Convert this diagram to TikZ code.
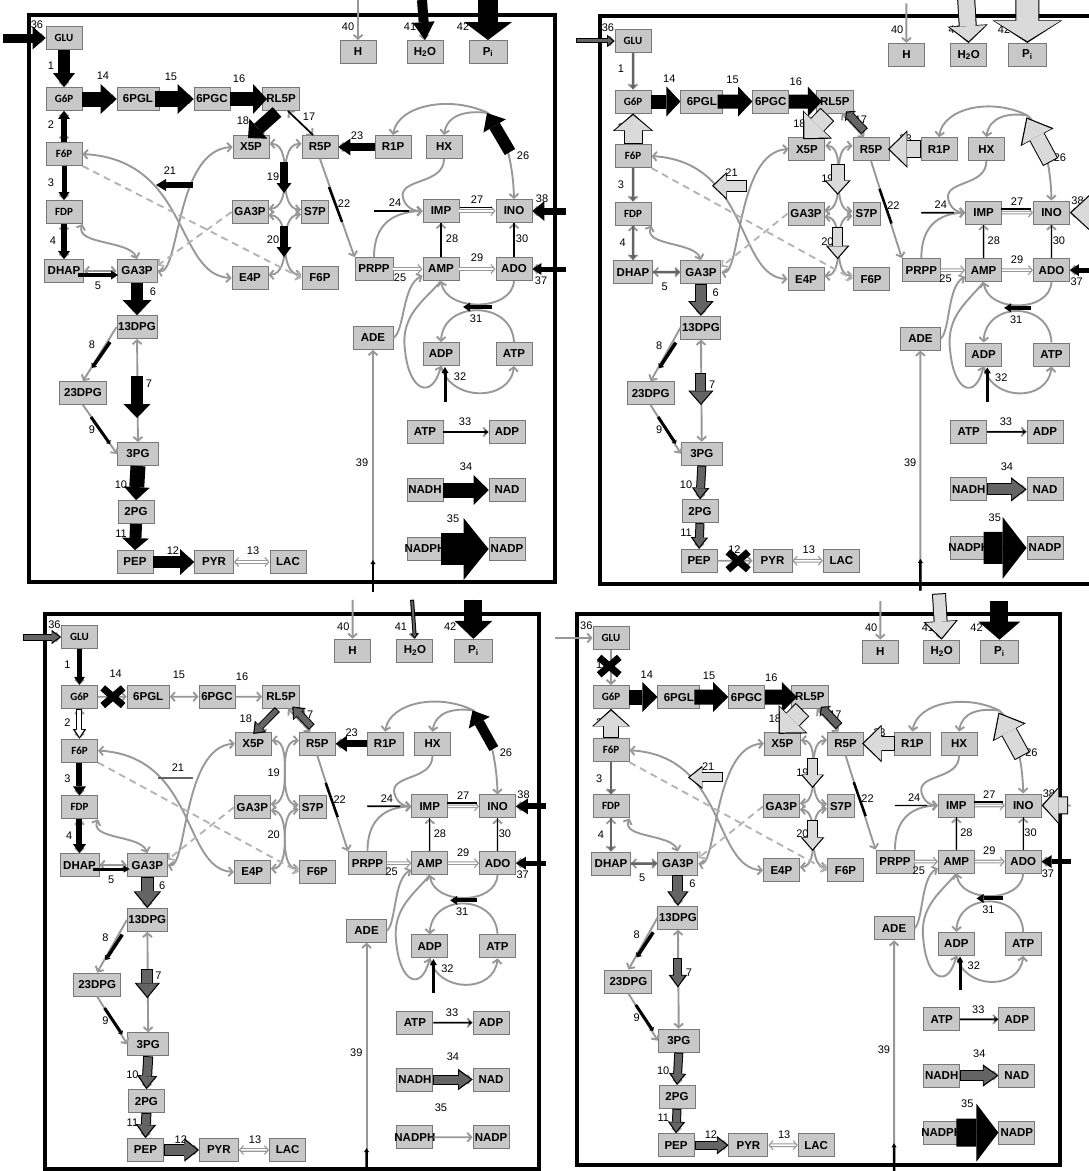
\documentclass[tikz,border=0pt]{standalone}
\usepackage{fontspec}
\setmainfont{Liberation Sans}
\newfontfamily\calfont{Carlito}
\usetikzlibrary{arrows.meta}

\definecolor{boxfill}{RGB}{200,200,200}
\definecolor{boxline}{RGB}{120,120,120}
\definecolor{conn}{RGB}{152,152,152}
\definecolor{dashc}{RGB}{180,180,180}
\definecolor{fluxdark}{RGB}{100,100,100}
\definecolor{fluxlight}{RGB}{218,218,218}

\newcommand{\lflux}[6][fluxlight]{%
  \pgfmathsetmacro\lfsw{#2+2}\pgfmathsetmacro\lfhw{#3+4.5}\pgfmathsetmacro\lfhl{#4+2.5}%
  \draw[fx={\lfsw}{\lfhw}{\lfhl}, black] (#5) -- (#6);
  \draw[fx={#2}{#3}{#4}, #1, shorten >=1.8pt, shorten <=1pt] (#5) -- (#6);
}
\newcommand{\stopx}[1]{\draw[xmark] (#1) ++(-11,-9) -- ++(22,18) ++(0,-18) -- ++(-22,18);}

\newcommand{\network}{%
  \node[met,sm] (glu) at (64,38) {GLU};
  \node[met,sm] (g6p) at (64,99) {G6P};
  \node[met,minimum width=42pt] (pgl) at (138,99) {6PGL};
  \node[met] (pgc) at (212,99) {6PGC};
  \node[met,minimum width=37pt] (rl5p) at (281,99) {RL5P};
  \node[met,sm] (f6p) at (64,154) {F6P};
  \node[met,sm] (fdp) at (64,212) {FDP};
  \node[met,minimum width=39pt] (dhap) at (64,271) {DHAP};
  \node[met,minimum width=40pt] (ga3p) at (137,271) {GA3P};
  \node[met] (x5p) at (251,147) {X5P};
  \node[met] (r5p) at (320,147) {R5P};
  \node[met] (r1p) at (393,147) {R1P};
  \node[met] (hx) at (444,147) {HX};
  \node[met] (ga3pm) at (250,212) {GA3P};
  \node[met,minimum width=27pt] (s7p) at (315,212) {S7P};
  \node[met] (e4p) at (250,278) {E4P};
  \node[met] (f6pm) at (320,278) {F6P};
  \node[met] (imp) at (441,211) {IMP};
  \node[met] (ino) at (514,211) {INO};
  \node[met,minimum width=38pt] (prpp) at (374,269) {PRPP};
  \node[met] (amp) at (441,269) {AMP};
  \node[met] (ado) at (514,269) {ADO};
  \node[met] (h) at (358,52) {H};
  \node[met] (hho) at (425,52) {H\textsubscript{2}O};
  \node[met,minimum width=38pt] (pi) at (488,52) {P\textsubscript{i}};
  \node[met,minimum width=40pt] (dpg13) at (137,327) {13DPG};
  \node[met,minimum width=47pt] (dpg23) at (83,393) {23DPG};
  \node[met,minimum width=41pt] (pg3) at (138,454) {3PG};
  \node[met] (pg2) at (136,512) {2PG};
  \node[met] (pep) at (135,562) {PEP};
  \node[met,minimum width=39pt] (pyr) at (214,562) {PYR};
  \node[met] (lac) at (288,562) {LAC};
  \node[met,minimum width=40pt] (ade) at (373,338) {ADE};
  \node[met] (adp) at (441,354) {ADP};
  \node[met] (atp) at (514,354) {ATP};
  \node[met] (atp2) at (425,432) {ATP};
  \node[met] (adp2) at (507,432) {ADP};
  \node[met] (nadh) at (425,490) {NADH};
  \node[met] (nad) at (507,490) {NAD};
  \node[met] (nadph) at (425,549) {NADPH};
  \node[met] (nadp) at (507,549) {NADP};
  \coordinate (in36) at (3,38);
  \coordinate (in37) at (566,269);
  \coordinate (in38) at (566,211);
  \coordinate (in39) at (373,592);
  \coordinate (in40) at (358,0);
  \coordinate (in41) at (422,0);
  \coordinate (in42) at (488,0);
  \coordinate (in24) at (374,211);
  \coordinate (j26) at (488,113);
  \coordinate (m19) at (285,180);
  \coordinate (m20) at (285,245);
  % glycolysis
  \draw[rx] (in36) -- (glu);
  \draw[rx] (glu) -- (g6p);
  \draw[rxx] (f6p) -- (g6p);
  \draw[rx] (f6p) -- (fdp);
  \draw[rxx] (fdp) -- (dhap);
  \draw[rxx] (dhap) -- (ga3p);
  \draw[rxx] (fdp.south east) .. controls (75,245) and (130,240) .. (ga3p.north);
  \draw[rx] (ga3p) -- (dpg13);
  \draw[rxx] (dpg13) -- (pg3);
  \draw[rx] (dpg13.west) -- (dpg23.north);
  \draw[rx] (dpg23.south) -- (pg3.west);
  \draw[rx] (pg3) -- (pg2);
  \draw[rx] (pg2) -- (pep);
  \draw[rx] (pep) -- (pyr);
  \draw[rxx,dbl] (pyr) -- (lac);
  % pentose phosphate
  \draw[rx] (g6p) -- (pgl);
  \draw[rxx] (pgl) -- (pgc);
  \draw[rx] (pgc) -- (rl5p);
  \draw[rxx] (rl5p.-60) -- (r5p.120);
  \draw[rx] (rl5p.-120) -- (x5p.60);
  \draw[rxx] (x5p.10) to[out=0,in=90] (m19) to[out=-90,in=180] (s7p.170);
  \draw[rxx] (r5p.170) to[out=180,in=90] (m19) to[out=-90,in=0] (ga3pm.10);
  \draw[rxx] (ga3pm.-10) to[out=0,in=90] (m20) to[out=-90,in=180] (f6pm.170);
  \draw[rxx] (s7p.-170) to[out=180,in=90] (m20) to[out=-90,in=0] (e4p.10);
  \draw[rxx] (f6p.east) .. controls (190,160) and (175,275) .. (e4p.west);
  \draw[rxx] (ga3p.east) .. controls (180,275) and (175,150) .. (x5p.west);
  \draw[dashconn] (f6p.south east) -- (f6pm.west);
  \draw[dashconn] (ga3pm.west) -- (ga3p.15);
  % nucleotides
  \draw[rx] (r5p.south) -- (prpp.north west);
  \draw[rx] (r1p) -- (r5p);
  \draw[rx] (hx.south) .. controls (444,185) and (398,178) .. (403,198) .. controls (406,208) and (414,211) .. (imp.west);
  \draw[rx] (prpp.north) .. controls (374,225) and (392,212) .. (imp.west);
  \draw[rx] (in24) -- (imp.west);
  \draw[rx,dbl] (prpp) -- (amp);
  \draw[rx] (ade.east) .. controls (405,330) and (402,285) .. (amp.-160);
  \draw[rx] (j26) .. controls (503,125) and (513,160) .. (ino.north);
  \draw[rx] (j26) .. controls (450,95) and (398,105) .. (r1p.north);
  \draw[rx] (j26) .. controls (466,110) and (447,115) .. (hx.north);
  \draw[rx,dbl] (imp) -- (ino);
  \draw[rx] (amp) -- (imp);
  \draw[rx,dbl] (amp) -- (ado);
  \draw[rx] (ado) -- (ino);
  \draw[rx] (ado.south) .. controls (512,312) and (446,312) .. (amp.south);
  \draw[rx] (atp.north) .. controls (512,300) and (443,300) .. (adp.north);
  \draw[rx] (amp.south) .. controls (425,300) and (400,315) .. (405,350) .. controls (409,392) and (432,400) .. (adp.south);
  \draw[rx] (adp.south) .. controls (450,402) and (510,402) .. (atp.south);
  \draw[rx] (atp2) -- (adp2);
  \draw[rx] (nadh) -- (nad);
  \draw[rx] (nadph) -- (nadp);
  \draw[rx] (in37) -- (ado);
  \draw[rx] (in38) -- (ino);
  \draw[rx] (in39) -- (ade);
  \draw[rx] (in40) -- (h);
  \draw[rx] (in41) -- (hho);
  \draw[rx] (in42) -- (pi);
  \foreach \n/\x/\y in {36/37/25, 1/51/66, 2/51/125, 3/51/183, 4/53/241, 5/98/286,
      6/153/292, 7/149/384, 8/92/345, 9/92/430, 10/121/485, 11/121/534, 12/173/551,
      13/253/551, 14/103/76, 15/171/77, 16/239/79, 17/309/117, 18/243/121,
      19/273/177, 20/273/240, 21/170/171, 22/344/204, 23/357/136, 24/395/203,
      25/400/278, 26/523/156, 27/477/200, 28/452/239, 29/477/258, 30/522/239,
      31/476/319, 32/460/377, 33/465/422, 34/466/467, 35/453/519, 37/541/281,
      38/542/199, 39/362/463, 40/348/27, 41/410/27, 42/463/27}
    \node[lab] (n\n) at (\x,\y) {\n};
}

\newcommand{\fluxcommon}{%
  \draw[fx={3.5}{7}{4}] (110,342) -- (92,368);
  \draw[fx={3}{6}{3}] (91,417) -- (110,444);
  \draw[fline=2.5] (329,187) -- (342,222);
  \draw[fline] (in24) -- (409,211);
  \draw[fline] (460,207.5) -- (492,207.5);
  \draw[fline] (441,257) -- (441,223);
  \draw[fline] (514,257) -- (514,223);
  \draw[fx={4}{9}{7}] (492,307) -- (463,307);
  \draw[fx={3}{7}{6}] (445,402) -- (445,367);
  \draw[fx={1.5}{5}{4}] (atp2) -- (adp2);
  \draw[fx={2.5}{5}{4}] (in39) -- (373,560);
}

\newcommand{\fluxtl}{%
  \draw[fx={9}{23}{13}] (in36) -- (glu.west);
  \draw[fx={12}{22}{14}] (glu.south) -- (g6p.north);
  \draw[fx={6}{12}{8}] (f6p) -- (g6p);
  \draw[fx={5}{11}{8}] (f6p) -- (fdp);
  \draw[fx={6}{12}{8}] (fdp) -- (dhap);
  \draw[fx={4}{9}{7}] (78,275) -- (118,275);
  \draw[fx={12}{29}{15}] (ga3p.south) -- (dpg13.north);
  \draw[fx={12}{27}{14}] (137,376) -- (137,418);
  \draw[fx={15}{26}{13}] (pg3.south) -- (pg2.north);
  \draw[fx={12}{27}{12}] (pg2.south) -- (pep.north);
  \draw[fx={12}{26}{14}] (pep.east) -- (pyr.west);
  \draw[fx={15}{30}{16}] (g6p.east) -- (pgl.west);
  \draw[fx={16}{30}{16}] (155,99) -- (pgc.west);
  \draw[fx={14}{30}{14}] (pgc.east) -- (267,99);
  \draw[fline=1.5] (rl5p.-60) -- (r5p.120);
  \draw[fx={13}{27}{14}] (277,112) -- (248,138);
  \draw[fx={8}{15}{10}] (284,162) -- (284,193);
  \draw[fx={8}{15}{10}] (284,226) -- (284,257);
  \draw[fx={6}{12}{10}] (193,185) -- (156,185);
  \draw[fx={8}{17}{12}] (r1p.west) -- (r5p.east);
  \draw[fx={12}{26}{15}] (510,152) -- (487,113);
  \draw[fx={15}{30}{15}] (nadh.east) -- (nad.west);
  \draw[fx={32}{62}{25}] (441,549) -- (nadp.west);
  \draw[fx={5}{12}{9}] (in37) -- (ado.east);
  \draw[fx={7}{20}{12}] (in38) -- (ino.east);
  \draw[fx={10}{22}{18}] (in41) -- (hho.north);
  \draw[fx={20}{48}{18}] (in42) -- (pi.north);
}

\newcommand{\fluxtr}{%
  \lflux[fluxdark]{3}{8}{5}{in36}{glu.west}
  \draw[fx={2.5}{6}{5}, fluxdark] (glu) -- (g6p);
  \lflux{17}{36}{15}{f6p.north}{g6p.south}
  \draw[fx={2.5}{6}{5}, fluxdark] (f6p) -- (fdp);
  \draw[fx={2.5}{6}{5}, fluxdark] (fdp) -- (dhap);
  \draw[fx={2.5}{6}{5}, fluxdark] (dhap) -- (ga3p);
  \lflux[fluxdark]{10}{21}{12}{ga3p.south}{dpg13.north}
  \lflux[fluxdark]{9}{21}{12}{137,373}{137,405}
  \lflux[fluxdark]{7}{13}{9}{pg3.south}{pg2.north}
  \lflux[fluxdark]{7}{13}{9}{pg2.south}{pep.north}
  \stopx{177,562}
  \draw[fx={14}{30}{14}] (g6p.east) -- (pgl.west);
  \draw[fx={14}{30}{14}] (155,99) -- (pgc.west);
  \draw[fx={14}{30}{14}] (pgc.east) -- (267,99);
  \lflux[fluxdark]{7}{11}{4}{313,129}{293,109}
  \lflux{17}{36}{18}{273,112}{247,137}
  \lflux{12}{22}{12}{284,162}{284,193}
  \lflux{9}{19}{11}{284,226}{284,258}
  \lflux{10}{23}{12}{187,184}{149,184}
  \lflux{16}{33}{17}{374,147}{338,147}
  \lflux{15}{33}{20}{513,160}{487,115}
  \lflux[fluxdark]{10}{20}{13}{nadh.east}{nad.west}
  \draw[fx={32}{62}{24}] (441,549) -- (nadp.west);
  \draw[fx={5}{12}{9}] (in37) -- (ado.east);
  \lflux{14}{37}{20}{575,211}{ino.east}
  \lflux{16}{36}{15}{422,-8}{hho.north}
  \lflux{22}{65}{20}{488,-8}{pi.north}
}

\newcommand{\fluxbl}{%
  \lflux[fluxdark]{5}{10}{7}{in36}{glu.west}
  \draw[fx={5}{11}{8}] (glu) -- (g6p);
  \lflux[white]{4}{9}{7}{g6p.south}{f6p.north}
  \draw[fx={6}{13}{9}] (f6p) -- (fdp);
  \draw[fx={6}{13}{9}] (fdp) -- (dhap);
  \draw[fx={3}{7}{6}] (78,275) -- (118,275);
  \lflux[fluxdark]{11}{23}{14}{ga3p.south}{dpg13.north}
  \lflux[fluxdark]{10}{21}{13}{137,377}{137,407}
  \lflux[fluxdark]{8}{16}{11}{pg3.south}{pg2.north}
  \lflux[fluxdark]{8}{16}{11}{pg2.south}{pep.north}
  \lflux[fluxdark]{10}{19}{12}{pep.east}{pyr.west}
  \stopx{100,99}
  \lflux[fluxdark]{6}{13}{8}{314,130}{293,109}
  \lflux[fluxdark]{5}{12}{8}{277,112}{251,137}
  \draw[fline=2, fluxdark] (149,182) -- (186,182);
  \draw[fx={7}{16}{11}] (r1p.west) -- (r5p.east);
  \draw[fx={10}{24}{14}] (510,152) -- (487,113);
  \lflux[fluxdark]{8}{17}{12}{nadh.east}{nad.west}
  \draw[fx={5}{13}{10}] (in37) -- (ado.east);
  \draw[fx={6}{16}{12}] (in38) -- (ino.east);
  \lflux[fluxdark]{2}{4}{3}{in41}{hho.north}
  \draw[fx={18}{38}{18}] (in42) -- (pi.north);
}

\newcommand{\fluxbr}{%
  \stopx{62,67}
  \lflux{14}{34}{15}{f6p.north}{g6p.south}
  \draw[fx={2.5}{6}{5}, fluxdark] (f6p) -- (fdp);
  \draw[fx={2.5}{6}{5}, fluxdark] (fdp) -- (dhap);
  \draw[fx={2.5}{6}{5}, fluxdark] (dhap) -- (ga3p);
  \lflux[fluxdark]{9}{17}{12}{ga3p.south}{dpg13.north}
  \lflux[fluxdark]{7}{14}{10}{137,369}{137,399}
  \lflux[fluxdark]{7}{13}{9}{pg3.south}{pg2.north}
  \lflux[fluxdark]{7}{13}{9}{pg2.south}{pep.north}
  \lflux[fluxdark]{7}{14}{9}{pep.east}{pyr.west}
  \draw[fx={15}{30}{15}] (g6p.east) -- (pgl.west);
  \draw[fx={15}{30}{15}] (155,99) -- (pgc.west);
  \draw[fx={15}{30}{15}] (pgc.east) -- (267,99);
  \lflux[fluxdark]{7}{11}{4}{313,129}{293,109}
  \lflux{17}{36}{18}{273,112}{247,137}
  \lflux{9}{19}{11}{284,162}{284,193}
  \lflux{9}{19}{11}{284,226}{284,258}
  \lflux{8}{19}{12}{186,182}{148,182}
  \lflux{13}{33}{17}{374,147}{338,147}
  \lflux{15}{33}{20}{513,160}{487,115}
  \lflux[fluxdark]{9}{18}{13}{nadh.east}{nad.west}
  \draw[fx={28}{58}{22}] (441,549) -- (nadp.west);
  \draw[fx={5}{13}{10}] (in37) -- (ado.east);
  \lflux{16}{34}{15}{563,211}{ino.east}
  \lflux{12}{30}{16}{422,-8}{hho.north}
  \draw[fx={18}{42}{18}] (in42) -- (pi.north);
}

\begin{document}
\begin{tikzpicture}[x=1pt, y=-1pt,
  met/.style={draw=boxline, fill=boxfill, line width=0.9pt, minimum width=36pt,
    minimum height=23pt, inner sep=0pt, font=\fontsize{11.5}{12}\selectfont\bfseries,
    execute at begin node={\hbox to 0pt\bgroup\hss}, execute at end node={\hss\egroup}},
  sm/.style={font=\calfont\fontsize{11}{12}\selectfont\bfseries},
  lab/.style={inner sep=0pt, font=\fontsize{11}{12}\selectfont},
  rx/.style={draw=conn, line width=1.9pt, -{Straight Barb[length=4pt, width=9pt]}},
  rxx/.style={rx, {Straight Barb[length=4pt, width=9pt]}-{Straight Barb[length=4pt, width=9pt]}},
  dbl/.style={double=white, double distance=1.5pt, line width=1.1pt},
  dashconn/.style={rx, draw=dashc, dash pattern=on 7pt off 5pt},
  fx/.style n args={3}{line width=#1pt, -{Triangle[width=#2pt, length=#3pt, line width=0pt]}},
  fline/.style={line width=#1pt, black}, fline/.default=1.3,
  xmark/.style={line width=7pt, black},
  panel/.style={line width=4pt, black}
]
  \useasboundingbox (0,0) rectangle (1089,1171);
  \foreach \a/\b/\c/\d in {29/14.5/555/581.5, 600/15.5/1095/583.5,
      45/614/538.5/1168.5, 576.5/613.5/1060/1165}
    \draw[panel] (\a,\b) rectangle (\c,\d);
  \foreach \ox/\oy/\sx/\sy/\fl in {0/0/1/1/tl, 573.5/3.3/0.930/0.992/tr,
      20.04/599.8/0.929/0.979/bl, 552.4/601.2/0.916/0.968/br} {
    \begin{scope}[shift={(\ox,\oy)}, xscale=\sx, yscale=\sy]
      \network
      \fluxcommon
      \csname flux\fl\endcsname
    \end{scope}
  }
\end{tikzpicture}
\end{document}
